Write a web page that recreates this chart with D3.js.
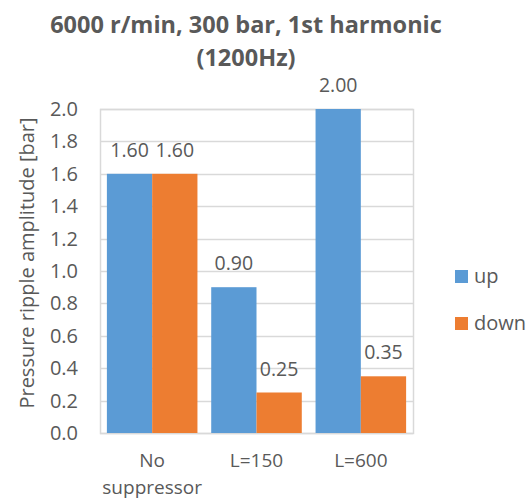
<!DOCTYPE html>
<html>
<head>
<meta charset="utf-8">
<script src="https://cdn.jsdelivr.net/npm/d3@7/dist/d3.min.js"></script>
<style>
  html, body { margin: 0; padding: 0; background: #fff; }
  svg { display: block; font-family: "Open Sans", "Noto Sans", sans-serif; }
</style>
</head>
<body>
<div id="chart"></div>
<script>
// Chart data
const titleLines = ["6000 r/min, 300 bar, 1st harmonic", "(1200Hz)"];
const categories = ["No suppressor", "L=150", "L=600"];
const categoryLines = [["No", "suppressor"], ["L=150"], ["L=600"]];
const seriesNames = ["up", "down"];
const upValues = [1.60, 0.90, 2.00];
const downValues = [1.60, 0.25, 0.35];
const yTicks = [0, 0.2, 0.4, 0.6, 0.8, 1.0, 1.2, 1.4, 1.6, 1.8, 2.0];
const yTitle = "Pressure ripple amplitude [bar]";
const colors = ["#5B9BD5", "#ED7D31"];

const width = 529, height = 500;
const plot = { left: 100, right: 413, top: 109, bottom: 433 };
const textColor = "#595959";
const gridColor = "#D9D9D9";

const svg = d3.select("#chart").append("svg")
  .attr("width", width).attr("height", height);

// Title
svg.append("g").selectAll("text").data(titleLines).join("text")
  .attr("x", 246)
  .attr("y", (d, i) => 33 + i * 33)
  .attr("text-anchor", "middle")
  .attr("font-size", 23.5)
  .attr("font-weight", 700)
  .attr("fill", textColor)
  .text(d => d);

// Scales
const x0 = d3.scaleBand().domain(categories)
  .range([plot.left, plot.right]).paddingInner(0.132).paddingOuter(0.066);
const x1 = d3.scaleBand().domain(seriesNames).range([0, x0.bandwidth()]);
const y = d3.scaleLinear().domain([0, 2.0]).range([plot.bottom, plot.top]);

// Gridlines and axis
const yAxis = d3.axisLeft(y).tickValues(yTicks)
  .tickFormat(d3.format(".1f")).tickSize(0).tickPadding(22);
const gy = svg.append("g").attr("transform", `translate(${plot.left},0)`).call(yAxis);
gy.select(".domain").remove();
gy.selectAll("text").attr("fill", textColor).attr("font-size", 20)
  .attr("font-family", "'Open Sans', 'Noto Sans', sans-serif");

svg.append("g").selectAll("line").data(yTicks).join("line")
  .attr("x1", plot.left).attr("x2", plot.right)
  .attr("y1", d => Math.round(y(d)) + 0.5).attr("y2", d => Math.round(y(d)) + 0.5)
  .attr("stroke", gridColor).attr("stroke-width", 1.5);

svg.append("rect")
  .attr("x", plot.left + 0.5).attr("y", Math.round(y(2.0)) + 0.5)
  .attr("width", plot.right - plot.left).attr("height", Math.round(y(0)) - Math.round(y(2.0)))
  .attr("fill", "none").attr("stroke", gridColor).attr("stroke-width", 1.5);

// Bars
const rows = categories.map((c, i) => ({
  category: c,
  values: [
    { series: seriesNames[0], value: upValues[i], color: colors[0] },
    { series: seriesNames[1], value: downValues[i], color: colors[1] }
  ]
}));

const groups = svg.append("g").selectAll("g").data(rows).join("g")
  .attr("transform", d => `translate(${x0(d.category)},0)`);

groups.selectAll("rect").data(d => d.values).join("rect")
  .attr("x", d => x1(d.series))
  .attr("y", d => y(d.value))
  .attr("width", x1.bandwidth())
  .attr("height", d => y(0) - y(d.value))
  .attr("fill", d => d.color);

// Value labels
groups.selectAll("text").data(d => d.values).join("text")
  .attr("x", d => x1(d.series) + x1.bandwidth() / 2)
  .attr("y", d => y(d.value) - 17)
  .attr("text-anchor", "middle")
  .attr("font-size", 19.5)
  .attr("fill", textColor)
  .text(d => d3.format(".2f")(d.value));

// Category labels
const cat = svg.append("g").selectAll("text").data(categories).join("text")
  .attr("text-anchor", "middle")
  .attr("font-size", 19)
  .attr("fill", textColor);
cat.each(function(c, i) {
  d3.select(this).selectAll("tspan").data(categoryLines[i]).join("tspan")
    .attr("x", x0(c) + x0.bandwidth() / 2)
    .attr("y", (d, j) => 467 + j * 27)
    .text(d => d);
});

// Y axis title
svg.append("text")
  .attr("transform", `translate(34,263) rotate(-90)`)
  .attr("text-anchor", "middle")
  .attr("font-size", 20)
  .attr("fill", textColor)
  .text(yTitle);

// Legend
const legend = svg.append("g").selectAll("g").data(seriesNames).join("g")
  .attr("transform", (d, i) => `translate(455,${270 + i * 47})`);
legend.append("rect").attr("width", 13).attr("height", 13)
  .attr("fill", (d, i) => colors[i]);
legend.append("text")
  .attr("x", 19).attr("y", 13)
  .attr("font-size", 20)
  .attr("fill", textColor)
  .text(d => d);
</script>
</body>
</html>
